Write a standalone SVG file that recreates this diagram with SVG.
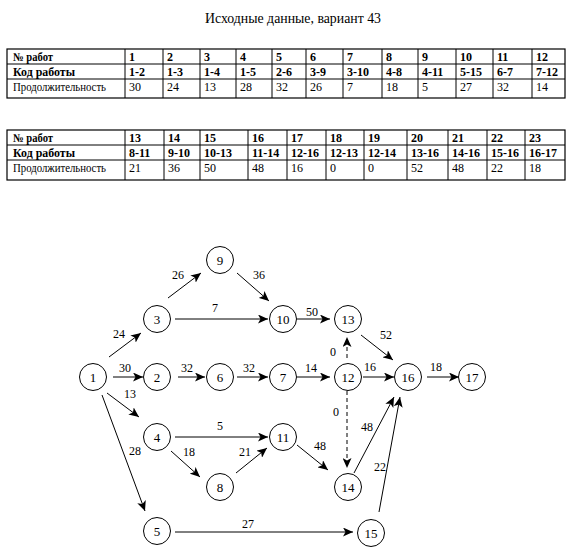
<svg xmlns="http://www.w3.org/2000/svg" width="573" height="555" viewBox="0 0 573 555">
<style>
text{font-family:'Liberation Serif','Times New Roman',Tinos,'DejaVu Serif','Noto Serif',serif;fill:#000}
.t{font-size:12px}
.b{font-weight:bold}
.title{font-size:15px}
.grid line{stroke:#000;stroke-width:1}
.grid rect{fill:none;stroke:#000;stroke-width:1.2}
circle{fill:#fff;stroke:#000;stroke-width:1}
.n{font-size:13px;text-anchor:middle}
.lbl{font-size:12px;text-anchor:middle}
.e{stroke:#000;stroke-width:1;fill:none;marker-end:url(#ah)}
.d{stroke-dasharray:4,3}
</style>
<defs>
<marker id="ah" markerWidth="11" markerHeight="9" refX="10" refY="4.5" orient="auto" markerUnits="userSpaceOnUse">
<path d="M0,0 L10,4.5 L0,9 L2.5,4.5 z" fill="#000"/>
</marker>
</defs>
<rect width="573" height="555" fill="#fff"/>
<text class="title" x="205" y="23" textLength="176" lengthAdjust="spacingAndGlyphs">Исходные данные, вариант 43</text>

<g id="table1" class="grid">
<rect x="7" y="49" width="558" height="49"/>
<line x1="7" y1="64" x2="565" y2="64"/>
<line x1="7" y1="79" x2="565" y2="79"/>
<line x1="125" y1="49" x2="125" y2="98"/>
<line x1="163" y1="49" x2="163" y2="98"/>
<line x1="200" y1="49" x2="200" y2="98"/>
<line x1="236" y1="49" x2="236" y2="98"/>
<line x1="272" y1="49" x2="272" y2="98"/>
<line x1="306" y1="49" x2="306" y2="98"/>
<line x1="343" y1="49" x2="343" y2="98"/>
<line x1="382" y1="49" x2="382" y2="98"/>
<line x1="418" y1="49" x2="418" y2="98"/>
<line x1="456" y1="49" x2="456" y2="98"/>
<line x1="493" y1="49" x2="493" y2="98"/>
<line x1="532" y1="49" x2="532" y2="98"/>
<g class="t b">
<text x="13" y="61" textLength="40" lengthAdjust="spacingAndGlyphs">№ работ</text>
<text x="129" y="61">1</text><text x="167" y="61">2</text><text x="204" y="61">3</text><text x="240" y="61">4</text><text x="276" y="61">5</text><text x="310" y="61">6</text><text x="347" y="61">7</text><text x="386" y="61">8</text><text x="422" y="61">9</text><text x="460" y="61">10</text><text x="497" y="61">11</text><text x="536" y="61">12</text>
<text x="13" y="76" textLength="62" lengthAdjust="spacingAndGlyphs">Код работы</text>
<text x="129" y="76">1-2</text><text x="167" y="76">1-3</text><text x="204" y="76">1-4</text><text x="240" y="76">1-5</text><text x="276" y="76">2-6</text><text x="310" y="76">3-9</text><text x="347" y="76">3-10</text><text x="386" y="76">4-8</text><text x="422" y="76">4-11</text><text x="460" y="76">5-15</text><text x="497" y="76">6-7</text><text x="536" y="76">7-12</text>
</g>
<g class="t">
<text x="13" y="91" textLength="93" lengthAdjust="spacingAndGlyphs">Продолжительность</text>
<text x="129" y="91">30</text><text x="167" y="91">24</text><text x="204" y="91">13</text><text x="240" y="91">28</text><text x="276" y="91">32</text><text x="310" y="91">26</text><text x="347" y="91">7</text><text x="386" y="91">18</text><text x="422" y="91">5</text><text x="460" y="91">27</text><text x="497" y="91">32</text><text x="536" y="91">14</text>
</g>
</g>

<g id="table2" class="grid">
<rect x="7" y="130" width="558" height="50"/>
<line x1="7" y1="145" x2="565" y2="145"/>
<line x1="7" y1="160" x2="565" y2="160"/>
<line x1="125" y1="130" x2="125" y2="180"/>
<line x1="164" y1="130" x2="164" y2="180"/>
<line x1="200" y1="130" x2="200" y2="180"/>
<line x1="248" y1="130" x2="248" y2="180"/>
<line x1="287" y1="130" x2="287" y2="180"/>
<line x1="326" y1="130" x2="326" y2="180"/>
<line x1="364" y1="130" x2="364" y2="180"/>
<line x1="407" y1="130" x2="407" y2="180"/>
<line x1="448" y1="130" x2="448" y2="180"/>
<line x1="487" y1="130" x2="487" y2="180"/>
<line x1="525" y1="130" x2="525" y2="180"/>
<g class="t b">
<text x="13" y="142" textLength="40" lengthAdjust="spacingAndGlyphs">№ работ</text>
<text x="129" y="142">13</text><text x="168" y="142">14</text><text x="204" y="142">15</text><text x="252" y="142">16</text><text x="291" y="142">17</text><text x="330" y="142">18</text><text x="368" y="142">19</text><text x="411" y="142">20</text><text x="452" y="142">21</text><text x="491" y="142">22</text><text x="529" y="142">23</text>
<text x="13" y="157" textLength="62" lengthAdjust="spacingAndGlyphs">Код работы</text>
<text x="129" y="157">8-11</text><text x="168" y="157">9-10</text><text x="204" y="157">10-13</text><text x="252" y="157">11-14</text><text x="291" y="157">12-16</text><text x="330" y="157">12-13</text><text x="368" y="157">12-14</text><text x="411" y="157">13-16</text><text x="452" y="157">14-16</text><text x="491" y="157">15-16</text><text x="529" y="157">16-17</text>
</g>
<g class="t">
<text x="13" y="172" textLength="93" lengthAdjust="spacingAndGlyphs">Продолжительность</text>
<text x="129" y="172">21</text><text x="168" y="172">36</text><text x="204" y="172">50</text><text x="252" y="172">48</text><text x="291" y="172">16</text><text x="330" y="172">0</text><text x="368" y="172">0</text><text x="411" y="172">52</text><text x="452" y="172">48</text><text x="491" y="172">22</text><text x="529" y="172">18</text>
</g>
</g>

<g id="connectors">
<line class="e" x1="113" y1="377" x2="143" y2="377"/>
<line class="e" x1="109" y1="357" x2="141" y2="333"/>
<line class="e" x1="107" y1="393" x2="139" y2="417"/>
<line class="e" x1="102" y1="395" x2="145" y2="511"/>
<line class="e" x1="178" y1="377" x2="205" y2="377"/>
<line class="e" x1="168" y1="298" x2="201" y2="273"/>
<line class="e" x1="175" y1="319" x2="268" y2="319"/>
<line class="e" x1="237" y1="273" x2="269" y2="301"/>
<line class="e" x1="297" y1="319" x2="330" y2="319"/>
<line class="e" x1="237" y1="377" x2="268" y2="377"/>
<line class="e" x1="297" y1="377" x2="330" y2="377"/>
<line class="e d" x1="347" y1="358" x2="347" y2="337"/>
<line class="e" x1="363" y1="377" x2="394" y2="377"/>
<line class="e d" x1="347" y1="391" x2="347" y2="468"/>
<line class="e" x1="361" y1="335" x2="393" y2="360"/>
<line class="e" x1="427" y1="377" x2="459" y2="377"/>
<line class="e" x1="175" y1="437" x2="268" y2="437"/>
<line class="e" x1="171" y1="451" x2="200" y2="477"/>
<line class="e" x1="236" y1="473" x2="267" y2="448"/>
<line class="e" x1="297" y1="445" x2="328" y2="470"/>
<line class="e" x1="354" y1="473" x2="394" y2="397"/>
<line class="e" x1="379" y1="512" x2="400" y2="397"/>
<line class="e" x1="175" y1="532" x2="353" y2="532"/>
<g class="lbl">
<text x="119" y="338">24</text>
<text x="125" y="372">30</text>
<text x="187" y="372">32</text>
<text x="249" y="372">32</text>
<text x="311" y="372">14</text>
<text x="178" y="279">26</text>
<text x="259" y="279">36</text>
<text x="215" y="312">7</text>
<text x="312" y="316">50</text>
<text x="333" y="356">0</text>
<text x="386" y="339">52</text>
<text x="370" y="371">16</text>
<text x="436" y="371">18</text>
<text x="130" y="398">13</text>
<text x="135" y="455">28</text>
<text x="220" y="430">5</text>
<text x="189" y="456">18</text>
<text x="245" y="456">21</text>
<text x="320" y="450">48</text>
<text x="248" y="528">27</text>
<text x="336" y="416">0</text>
<text x="367" y="431">48</text>
<text x="380" y="471">22</text>
</g>
</g>

<g id="nodes">
<g id="node1"><circle cx="93" cy="377" r="13.5"/><text class="n" x="93" y="381.5">1</text></g>
<g id="node2"><circle cx="157" cy="377" r="13.5"/><text class="n" x="157" y="381.5">2</text></g>
<g id="node3"><circle cx="157" cy="319" r="13.5"/><text class="n" x="157" y="323.5">3</text></g>
<g id="node4"><circle cx="157" cy="437" r="13.5"/><text class="n" x="157" y="441.5">4</text></g>
<g id="node5"><circle cx="157" cy="531" r="13.5"/><text class="n" x="157" y="535.5">5</text></g>
<g id="node6"><circle cx="220" cy="377" r="13.5"/><text class="n" x="220" y="381.5">6</text></g>
<g id="node7"><circle cx="283" cy="377" r="13.5"/><text class="n" x="283" y="381.5">7</text></g>
<g id="node8"><circle cx="220" cy="487" r="13.5"/><text class="n" x="220" y="491.5">8</text></g>
<g id="node9"><circle cx="220" cy="260" r="13.5"/><text class="n" x="220" y="264.5">9</text></g>
<g id="node10"><circle cx="283" cy="319" r="13.5"/><text class="n" x="283" y="323.5">10</text></g>
<g id="node11"><circle cx="283" cy="437" r="13.5"/><text class="n" x="283" y="441.5">11</text></g>
<g id="node12"><circle cx="348" cy="377" r="13.5"/><text class="n" x="348" y="381.5">12</text></g>
<g id="node13"><circle cx="348" cy="319" r="13.5"/><text class="n" x="348" y="323.5">13</text></g>
<g id="node14"><circle cx="348" cy="487" r="13.5"/><text class="n" x="348" y="491.5">14</text></g>
<g id="node15"><circle cx="371" cy="533" r="13.5"/><text class="n" x="371" y="537.5">15</text></g>
<g id="node16"><circle cx="408" cy="377" r="13.5"/><text class="n" x="408" y="381.5">16</text></g>
<g id="node17"><circle cx="472" cy="377" r="13.5"/><text class="n" x="472" y="381.5">17</text></g>
</g>
</svg>
